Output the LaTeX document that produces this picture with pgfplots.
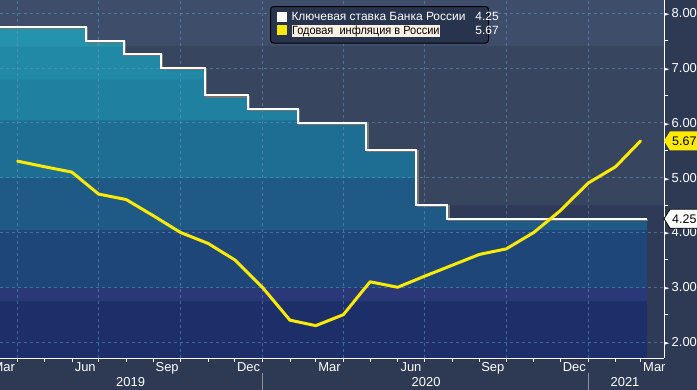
\documentclass[border=0pt]{standalone}
\usepackage{fontspec}
\setmainfont{Liberation Sans}
\newfontfamily\dejavu{DejaVu Sans}
\usepackage{graphicx}
\usepackage{pgfplots}
\pgfplotsset{compat=1.18}

\definecolor{outerbg}{HTML}{2E3A54}
\definecolor{bgA}{HTML}{3E4D69}
\definecolor{bgB}{HTML}{37455F}
\definecolor{bgC}{HTML}{2F3B56}
\definecolor{rA}{HTML}{2593AC}
\definecolor{rB}{HTML}{2189A5}
\definecolor{rC}{HTML}{1F80A0}
\definecolor{rD}{HTML}{1E6E94}
\definecolor{rE}{HTML}{1E5A85}
\definecolor{rF}{HTML}{1E4678}
\definecolor{rG}{HTML}{2A3878}
\definecolor{rH}{HTML}{1C2F69}
\definecolor{gridc}{HTML}{6E9CC0}
\definecolor{infl}{HTML}{FFEA00}
\definecolor{legbg}{HTML}{28344E}
\definecolor{cream}{HTML}{FFF1E4}
\definecolor{sepgray}{HTML}{8A93A6}

% banded shading for the area under the key rate (bbox y: 1.71 .. 7.75 -> 25bp .. 75bp)
\pgfdeclareverticalshading{ratebands}{100bp}{%
color(0bp)=(rH); color(33.60bp)=(rH);
color(33.62bp)=(rG); color(35.67bp)=(rG);
color(35.69bp)=(rF); color(44.36bp)=(rF);
color(44.38bp)=(rE); color(52.23bp)=(rE);
color(52.25bp)=(rD); color(60.92bp)=(rD);
color(60.94bp)=(rC); color(67.13bp)=(rC);
color(67.15bp)=(rB); color(72.09bp)=(rB);
color(72.11bp)=(rA); color(100bp)=(rA)}

\begin{document}
\begin{tikzpicture}
\begin{axis}[
  set layers,
  clip=false,
  at={(0bp,0bp)}, anchor=south west,
  scale only axis, width=664bp, height=358bp,
  xmin=11.2, xmax=757.3, ymin=1.71, ymax=8.24,
  axis x line*=bottom, axis y line*=right,
  axis line style={white, line width=1bp},
  /pgf/number format/assume math mode=true,
  tick align=outside,
  major tick length=0pt,
  minor tick length=4bp,
  tick style={white, line width=0.8bp},
  xtick={15.5,107,199,290.5,381.5,473,565,656.5,746.5},
  xticklabels={Mar,Jun,Sep,Dec,Mar,Jun,Sep,Dec,Mar},
  minor xtick={31,61,92,122,153,184,214,245,275,306,337,366,397,427,458,488,519,550,580,611,641,672,703,731},
  xticklabel style={text=white, font=\fontsize{13}{15}\selectfont, anchor=north, inner sep=0pt, yshift=-4.5bp},
  extra x ticks={31,122,214,306,397,488,580,672},
  extra x tick labels={},
  extra x tick style={grid=major},
  ytick={2,3,4,5,6,7,8},
  minor ytick={2.5,3.5,4.5,5.5,6.5,7.5},
  yticklabel={{\dejavu\fontsize{7}{7}\selectfont\raisebox{1bp}{►}}\,\pgfmathprintnumber[fixed,fixed zerofill,precision=2]{\tick}},
  yticklabel style={text=white, font=\fontsize{13}{15}\selectfont, anchor=west, inner sep=0pt},
  ymajorgrids=true,
  major grid style={gridc, opacity=0.5, line width=0.8bp, dash pattern=on 3bp off 3bp},
]
\begin{pgfonlayer}{axis background}
\fill[outerbg] ([yshift=-32bp]rel axis cs:0,0) rectangle ([xshift=40bp]rel axis cs:1,1);
\fill[bgC] (axis cs:11.2,1.71) rectangle (axis cs:757.3,4.5);
\fill[bgB] (axis cs:11.2,4.5) rectangle (axis cs:757.3,7.4);
\fill[bgA] (axis cs:11.2,7.4) rectangle (axis cs:757.3,8.24);
\end{pgfonlayer}

% area under the key rate, banded
\addplot[const plot, draw=none, shading=ratebands, on layer=axis background, forget plot] coordinates {
(11.2,1.71) (11.2,7.75) (108,7.5) (150,7.25) (192,7.0) (241,6.5) (290,6.25) (346,6.0) (423,5.5) (479,4.5) (514,4.25) (738,4.25) (738,1.71)};

% shadow of key rate line
\addplot[const plot, draw=black!55, line width=2bp, xshift=1.2bp, yshift=-1.2bp, forget plot] coordinates {
(11.2,7.75) (108,7.5) (150,7.25) (192,7.0) (241,6.5) (290,6.25) (346,6.0) (423,5.5) (479,4.5) (514,4.25) (738,4.25)};
% key rate
\addplot[const plot, draw=white, line width=2bp] coordinates {
(11.2,7.75) (108,7.5) (150,7.25) (192,7.0) (241,6.5) (290,6.25) (346,6.0) (423,5.5) (479,4.5) (514,4.25) (738,4.25)};

% annual inflation
\addplot[color=infl, line width=3bp, line join=round, line cap=round] coordinates {
(31,5.3) (61,5.2) (92,5.1) (122,4.7) (153,4.6) (184,4.3) (214,4.0) (245,3.8) (275,3.5) (306,3.0)
(337,2.4) (366,2.3) (397,2.5) (427,3.1) (458,3.0) (488,3.2) (519,3.4) (550,3.6) (580,3.7) (611,4.0)
(641,4.4) (672,4.9) (703,5.2) (731,5.67)};

\coordinate (y2019) at (axis cs:158,1.71);
\coordinate (y2020) at (axis cs:490,1.71);
\coordinate (y2021) at (axis cs:713.5,1.71);
\coordinate (sep1) at (axis cs:306,1.71);
\coordinate (sep2) at (axis cs:672,1.71);
\coordinate (tagY) at (axis cs:757.3,5.67);
\coordinate (tagW) at (axis cs:757.3,4.25);
\coordinate (leg) at (axis cs:314.6,8.13);
\end{axis}

% years and separators
\foreach \c/\t in {y2019/2019, y2020/2020, y2021/2021}
  \node[text=white, font=\fontsize{13}{15}\selectfont, anchor=north, inner sep=0pt] at ([yshift=-19.5bp]\c) {\t};
\draw[sepgray, line width=1bp] ([yshift=-15bp]sep1) -- ++(0,-20bp);
\draw[sepgray, line width=1bp] ([yshift=-15bp]sep2) -- ++(0,-20bp);

% value tags
\fill[infl] (tagY) -- ++(6bp,9.5bp) -- ++(40bp,0) -- ++(0,-19bp) -- ++(-40bp,0) -- cycle;
\node[anchor=west, text=black, font=\fontsize{12.5}{14}\selectfont, inner sep=0pt] at ([xshift=8bp]tagY) {5.67};
\filldraw[fill=white, draw=black, line width=0.8bp] (tagW) -- ++(6bp,9.5bp) -- ++(40bp,0) -- ++(0,-19bp) -- ++(-40bp,0) -- cycle;
\node[anchor=west, text=black, font=\fontsize{12.5}{14}\selectfont, inner sep=0pt] at ([xshift=8bp]tagW) {4.25};

% legend
\node[anchor=north west, draw=black, line width=1bp, rounded corners=3bp, fill=legbg, inner xsep=6bp, inner ysep=5bp, font=\fontsize{12}{14}\selectfont] at (leg) {%
\setlength{\fboxsep}{0.5bp}\renewcommand{\arraystretch}{0.95}%
\makebox[206bp][l]{\begin{tabular}{@{}l@{\hspace{5bp}}l@{\hspace{10bp}}r@{}}
\textcolor{white}{\rule[-1bp]{10bp}{10bp}} & \textcolor{white}{Ключевая ставка Банка России} & \textcolor{white}{4.25}\\
\textcolor{infl}{\rule[-1bp]{10bp}{10bp}} & \colorbox{cream}{\scalebox{0.92}[1]{\textcolor{black}{Годовая\ \ инфляция в России}}} & \textcolor{white}{5.67}
\end{tabular}}};

\pgfresetboundingbox
\useasboundingbox (0bp,-32bp) rectangle (697bp,358bp);
\end{tikzpicture}
\end{document}
